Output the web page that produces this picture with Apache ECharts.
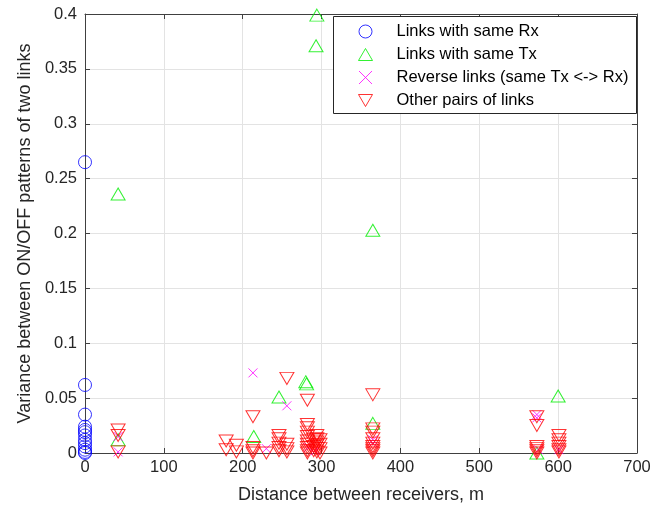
<!DOCTYPE html>
<html>
<head>
<meta charset="utf-8">
<script src="https://cdn.jsdelivr.net/npm/echarts@6/dist/echarts.min.js"></script>
<style>
  html, body { margin: 0; padding: 0; background: #fff; }
  #chart { width: 664px; height: 511px; }
</style>
</head>
<body>
<div id="chart"></div>
<script>
// [distance m, variance]
var sameRx = [
  [0, 0.265], [0, 0.062], [0, 0.035], [0, 0.024], [0, 0.021], [0, 0.019],
  [0, 0.016], [0, 0.012], [0, 0.009], [0, 0.006], [0, 0.003], [0, 0.001], [0, 0]
];
var sameTx = [
  [42, 0.236], [42, 0.012], [214, 0.015], [246, 0.051], [280, 0.065], [281, 0.063],
  [294, 0.399], [293, 0.371], [365, 0.203], [365, 0.027], [573, 0.0], [600, 0.052]
];
var reverseLinks = [
  [42, 0.015], [42, 0.001], [213, 0.073], [230, 0.004], [256, 0.043], [283, 0.005],
  [292, 0.002], [365, 0.012], [365, 0.009], [573, 0.035], [573, 0.032], [575, 0.003],
  [601, 0.003]
];
var otherPairs = [
  [42, 0.021], [42, 0.016], [42, 0.001],
  [179, 0.011], [179, 0.003], [192, 0.007], [192, 0.001],
  [213, 0.033], [213, 0.005], [213, 0.002], [213, 0.0],
  [230, 0.0],
  [246, 0.016], [246, 0.013], [246, 0.009], [246, 0.005], [246, 0.002],
  [256, 0.068], [256, 0.008], [256, 0.004], [256, 0.001],
  [282, 0.048], [282, 0.026], [282, 0.023], [282, 0.019], [282, 0.015], [282, 0.011],
  [282, 0.008], [282, 0.005], [282, 0.002], [282, 0.0],
  [290, 0.012], [290, 0.006], [290, 0.002],
  [294, 0.016], [294, 0.013], [294, 0.010], [294, 0.007], [294, 0.004], [294, 0.001],
  [298, 0.012], [298, 0.008], [298, 0.004], [298, 0.0],
  [365, 0.053], [365, 0.022], [365, 0.019], [365, 0.013], [365, 0.009], [365, 0.006],
  [365, 0.004], [365, 0.002], [365, 0.0],
  [573, 0.033], [573, 0.025], [573, 0.006], [573, 0.004], [573, 0.002], [573, 0.0],
  [601, 0.016], [601, 0.012], [601, 0.009], [601, 0.006], [601, 0.003], [601, 0.001]
];
var seriesNames = [
  'Links with same Rx',
  'Links with same Tx',
  'Reverse links (same Tx <-> Rx)',
  'Other pairs of links'
];

var font = '"Liberation Sans", Arial, Helvetica, sans-serif';
var axisColor = '#404040';
var textColor = '#262626';
var upTri = 'path://M7,0 L14,12 L0,12 Z';
var downTri = 'path://M0,0 L14,0 L7,12 Z';
var cross = 'path://M0,0 L10,10 M10,0 L0,10';

function hollow(color) {
  return { color: 'rgba(0,0,0,0)', borderColor: color, borderWidth: 1 };
}

var myChart = echarts.init(document.getElementById('chart'));
myChart.setOption({
  animation: false,
  textStyle: { fontFamily: font },
  grid: { left: 85, right: 27, top: 14, bottom: 58 },
  graphic: [{
    type: 'rect',
    z: 3,
    shape: { x: 333.5, y: 16.5, width: 303, height: 97 },
    style: { fill: '#fff', stroke: '#262626', lineWidth: 1 }
  }],
  legend: {
    orient: 'vertical',
    left: 358,
    top: 16,
    padding: [7, 5, 6, 0],
    itemWidth: 14,
    itemHeight: 13,
    itemGap: 6,
    symbolKeepAspect: true,
    itemStyle: { borderWidth: 1 },
    textStyle: { fontSize: 16.5, color: '#000', fontFamily: font, padding: [0, 0, 0, 19] },
    data: seriesNames
  },
  xAxis: [{
    type: 'value',
    min: 0, max: 700, interval: 100,
    name: 'Distance between receivers, m',
    nameLocation: 'middle',
    nameGap: 33,
    nameTextStyle: { fontSize: 18, color: textColor },
    axisLine: { onZero: false, lineStyle: { color: axisColor } },
    axisTick: { inside: true, length: 5, lineStyle: { color: axisColor } },
    axisLabel: { fontSize: 16.5, color: textColor, margin: 6 },
    splitLine: { lineStyle: { color: '#e3e3e3' } }
  }, {
    type: 'value', position: 'top',
    min: 0, max: 700, interval: 100,
    axisLine: { onZero: false, lineStyle: { color: axisColor } },
    axisTick: { inside: true, length: 5, lineStyle: { color: axisColor } },
    axisLabel: { show: false },
    splitLine: { show: false }
  }],
  yAxis: [{
    type: 'value',
    min: 0, max: 0.4, interval: 0.05,
    name: 'Variance between ON/OFF patterns of two links',
    nameLocation: 'middle',
    nameGap: 50,
    nameTextStyle: { fontSize: 18, color: textColor },
    axisLine: { show: true, onZero: false, lineStyle: { color: axisColor } },
    axisTick: { show: true, inside: true, length: 5, lineStyle: { color: axisColor } },
    axisLabel: { fontSize: 16.5, color: textColor, margin: 8 },
    splitLine: { lineStyle: { color: '#e3e3e3' } }
  }, {
    type: 'value', position: 'right',
    min: 0, max: 0.4, interval: 0.05,
    axisLine: { show: true, onZero: false, lineStyle: { color: axisColor } },
    axisTick: { show: true, inside: true, length: 5, lineStyle: { color: axisColor } },
    axisLabel: { show: false },
    splitLine: { show: false }
  }],
  series: [{
    name: seriesNames[0],
    type: 'scatter',
    symbol: 'circle',
    symbolSize: 13,
    itemStyle: hollow('#0000ff'),
    data: sameRx
  }, {
    name: seriesNames[1],
    type: 'scatter',
    symbol: upTri,
    symbolSize: [14, 12],
    itemStyle: hollow('#00ee00'),
    data: sameTx
  }, {
    name: seriesNames[2],
    type: 'scatter',
    symbol: cross,
    symbolSize: 9,
    itemStyle: hollow('#ff00ff'),
    data: reverseLinks
  }, {
    name: seriesNames[3],
    type: 'scatter',
    symbol: downTri,
    symbolSize: [14, 12],
    itemStyle: hollow('#ff0000'),
    data: otherPairs
  }]
});
</script>
</body>
</html>
